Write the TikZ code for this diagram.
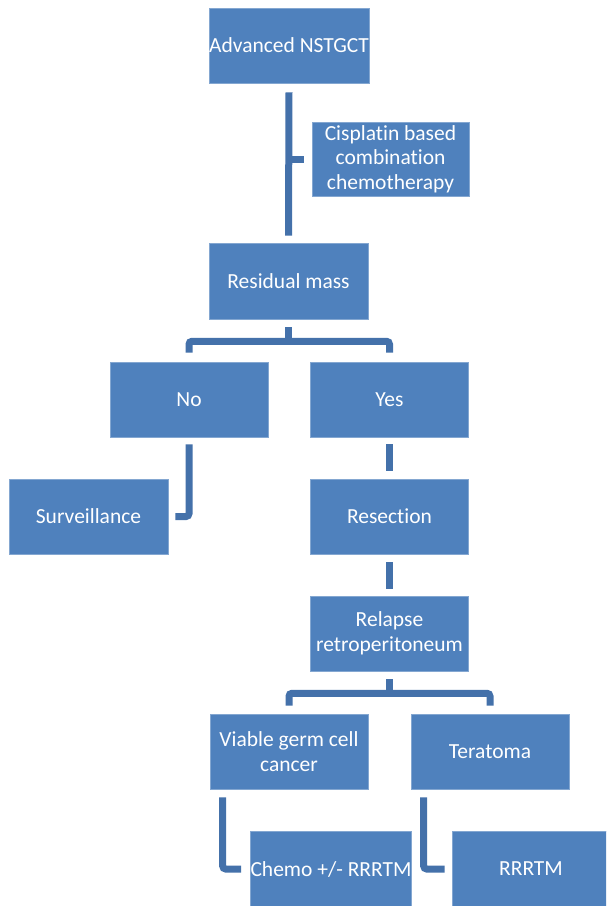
\documentclass[tikz,border=0pt]{standalone}
\usepackage{fontspec}
\setmainfont{Carlito}[Ligatures={NoCommon}]
\usetikzlibrary{calc}
\definecolor{boxblue}{HTML}{4F81BD}
\definecolor{linkblue}{HTML}{4471AA}
\tikzset{
  flowbox/.style={rectangle, fill=boxblue, draw=boxblue!70!white, line width=0.6pt,
    text=white, minimum width=158pt, minimum height=75pt, inner sep=0pt,
    align=center, font=\fontsize{21.5}{24.5}\selectfont},
  link/.style={draw=linkblue, line width=7pt, line cap=butt},
  elbow/.style={link, rounded corners=3pt}
}
\begin{document}
\begin{tikzpicture}[x=1pt,y=-1pt]
\fill[white] (0,0) rectangle (606,906);
\clip (0,0) rectangle (606,906);
% boxes
\node[flowbox] (adv)   at (289,45.5)  {Advanced NSTGCT};
\node[flowbox, minimum width=157pt, minimum height=74pt] (cis) at (390.5,159) {Cisplatin based\\combination\\chemotherapy};
\node[flowbox, minimum width=159pt, minimum height=76pt] (res) at (288.5,281) {Residual mass};
\node[flowbox] (no)    at (189,399.5) {No};
\node[flowbox] (yes)   at (389.5,399.5) {Yes};
\node[flowbox, minimum width=159pt] (surv)  at (88.5,516.5) {Surveillance};
\node[flowbox] (resec) at (389.5,516.5) {Resection};
\node[flowbox] (rel)   at (389.5,633.5) {Relapse\\retroperitoneum};
\node[flowbox] (via)   at (289,751.5) {Viable germ cell\\cancer};
\node[flowbox] (ter)   at (490,751.5) {Teratoma};
\node[flowbox, minimum height=76pt] (chemo) at (331,869) {Chemo +/- RRRTM};
\node[flowbox, minimum height=76pt] (rrrtm) at (531,869) {RRRTM};
% connectors
\draw[link] ($(adv.south)+(0,9)$) -- ($(res.north)+(0,-7)$);
\draw[link] ($(cis.west)+(-8,0)$) -- (adv.south |- cis.west);
\draw[link] ($(res.south)+(0,8)$) -- ($(res.south)+(0,22)$);
\draw[elbow] ($(no.north)+(0,-9)$) |- ($(res.south)+(0,22)$) -| ($(yes.north)+(0,-9)$);
\draw[elbow] ($(no.south)+(0,7)$) |- ($(surv.east)+(7,0)$);
\draw[link] ($(yes.south)+(0,7)$) -- ($(resec.north)+(0,-8)$);
\draw[link] ($(resec.south)+(0,8)$) -- ($(rel.north)+(0,-7)$);
\draw[link] ($(rel.south)+(0,8)$) -- ($(rel.south)+(0,22)$);
\draw[elbow] ($(via.north)+(0,-8)$) |- ($(rel.south)+(0,22)$) -| ($(ter.north)+(0,-8)$);
\draw[elbow] ($(via.south west)+(13,8)$) |- ($(chemo.west)+(-9,0)$);
\draw[elbow] ($(ter.south west)+(13,8)$) |- ($(rrrtm.west)+(-7,0)$);
\end{tikzpicture}
\end{document}
